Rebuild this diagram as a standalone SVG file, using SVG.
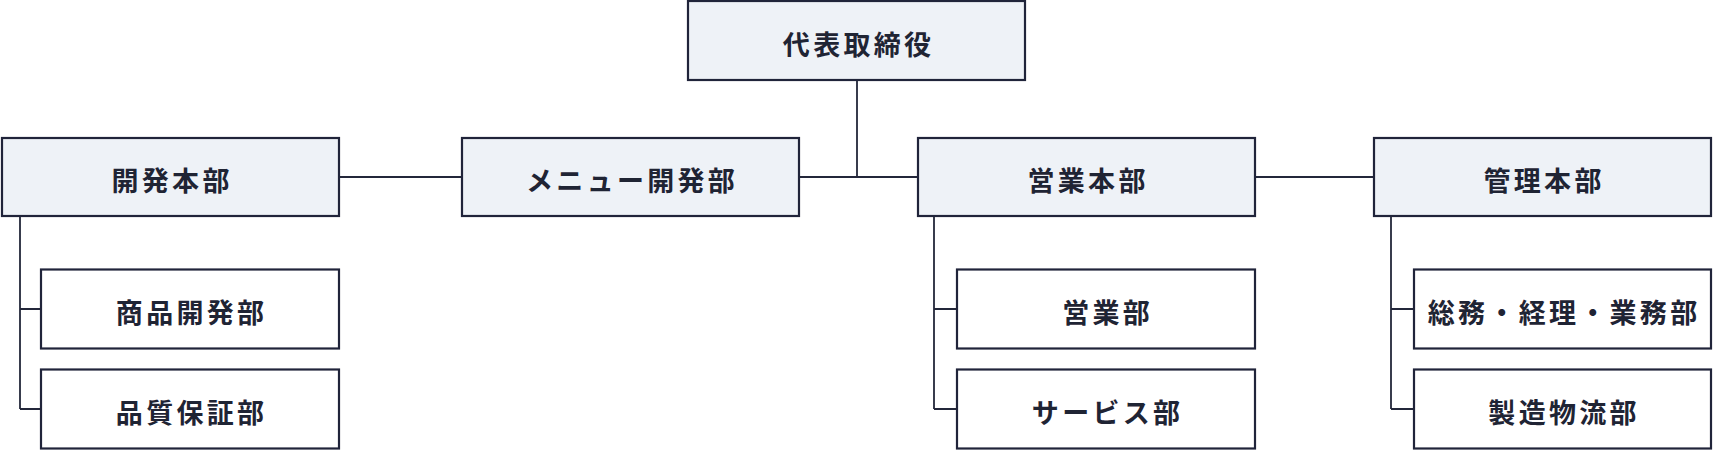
<svg xmlns="http://www.w3.org/2000/svg" width="1713" height="450" viewBox="0 0 1713 450">
<style>
.box{stroke:#20243a;stroke-width:2.2;}
.main{fill:#eef2f7;}
.sub{fill:#ffffff;}
.lbl{font-family:"Noto Sans CJK JP","Noto Sans CJK SC",sans-serif;font-weight:700;font-size:27px;fill:#1f2434;letter-spacing:3.3px;text-anchor:middle;}
.ln{fill:none;stroke:#23273a;stroke-width:1.8;}
</style>
<rect width="1713" height="450" fill="#ffffff"/>
<g id="connectors">
<path class="ln" d="M857 81V177M340 177H461M800 177H917M1256 177H1373"/>
<path class="ln" d="M20 217V409M20 309H40M20 409H40"/>
<path class="ln" d="M934 217V409M934 309H956M934 409H956"/>
<path class="ln" d="M1391 217V409M1391 309H1413M1391 409H1413"/>
</g>
<g id="ceo"><rect class="box main" x="688" y="1" width="337" height="79"/><text class="lbl" x="858.6" y="55">代表取締役</text></g>
<g id="dev-hq"><rect class="box main" x="2" y="138" width="337" height="78"/><text class="lbl" x="172.1" y="191">開発本部</text></g>
<g id="menu-dev"><rect class="box main" x="462" y="138" width="337" height="78"/><text class="lbl" x="632.1" y="191">メニュー開発部</text></g>
<g id="sales-hq"><rect class="box main" x="918" y="138" width="337" height="78"/><text class="lbl" x="1088.1" y="191">営業本部</text></g>
<g id="admin-hq"><rect class="box main" x="1374" y="138" width="337" height="78"/><text class="lbl" x="1544.1" y="191">管理本部</text></g>
<g id="product-dev"><rect class="box sub" x="41" y="269.5" width="298" height="79"/><text class="lbl" x="191.6" y="323">商品開発部</text></g>
<g id="qa"><rect class="box sub" x="41" y="369.5" width="298" height="79"/><text class="lbl" x="191.6" y="423">品質保証部</text></g>
<g id="sales"><rect class="box sub" x="957" y="269.5" width="298" height="79"/><text class="lbl" x="1107.6" y="323">営業部</text></g>
<g id="service"><rect class="box sub" x="957" y="369.5" width="298" height="79"/><text class="lbl" x="1107.6" y="423">サービス部</text></g>
<g id="general"><rect class="box sub" x="1414" y="269.5" width="297" height="79"/><text class="lbl" x="1564.1" y="323">総務・経理・業務部</text></g>
<g id="logistics"><rect class="box sub" x="1414" y="369.5" width="297" height="79"/><text class="lbl" x="1564.1" y="423">製造物流部</text></g>
</svg>
